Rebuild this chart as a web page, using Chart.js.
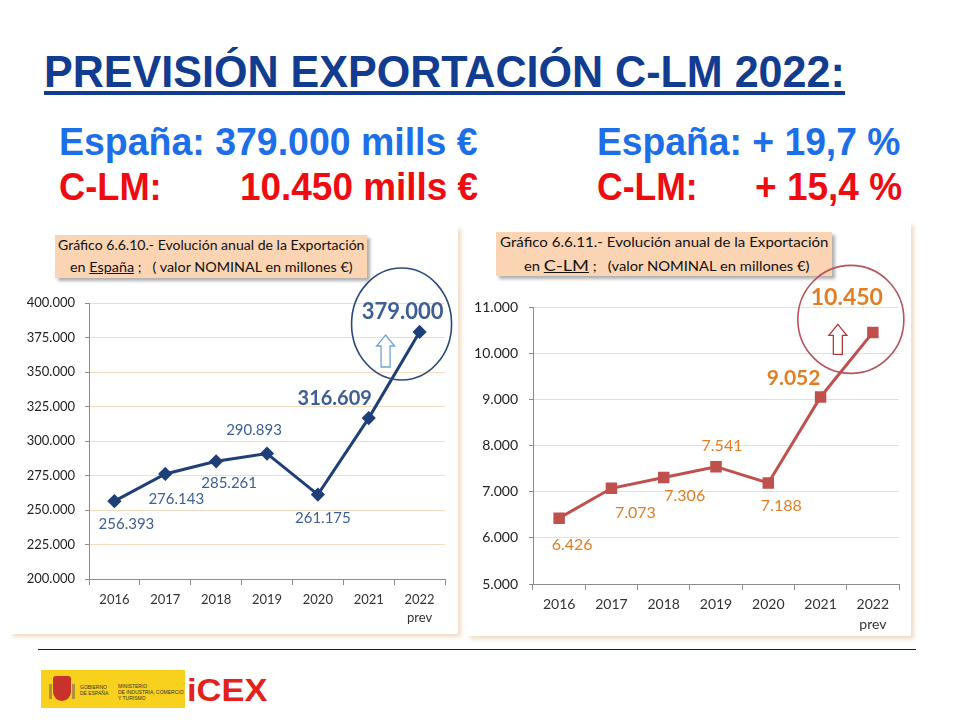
<!DOCTYPE html>
<html>
<head>
<meta charset="utf-8">
<script src="https://cdn.jsdelivr.net/npm/chart.js@4.4.1/dist/chart.umd.min.js"></script>
<style>
body { margin: 0; width: 956px; height: 720px; background: #fff; position: relative; overflow: hidden; font-family: 'Liberation Sans', Arial, sans-serif; }
.t { position: absolute; white-space: nowrap; line-height: 1; transform-origin: 0 0; }
.big { font-weight: bold; font-size: 38px; }
.blue { color: #1d6fe9; }
.red { color: #ee0c10; }
.panel { position: absolute; background: #fff; box-shadow: 3px 3px 4px rgba(232, 205, 175, 0.7); }
.cap { position: absolute; background: #fbd4b3; box-shadow: 3px 3px 3px rgba(110, 110, 110, 0.55); }
.capt { position: absolute; white-space: nowrap; font-family: Lato, sans-serif; font-size: 13px; color: #111; line-height: 1; transform-origin: 0 0; }
canvas { position: absolute; z-index: 2; }
</style>
</head>
<body>

<div class="t" id="title" data-w="801" style="left:44px;top:49px;font-weight:bold;font-size:45px;color:#123c90;">PREVISIÓN EXPORTACIÓN C-LM 2022:</div>
<div style="position:absolute;left:44px;top:91px;width:801px;height:4px;background:#123c90;"></div>

<div class="t big blue" data-w="419" style="left:59px;top:123px;">España: 379.000 mills €</div>
<div class="t big red" data-w="103" style="left:59px;top:168px;">C-LM:</div>
<div class="t big red" data-w="238" style="left:240px;top:168px;">10.450 mills €</div>
<div class="t big blue" data-w="303" style="left:597px;top:123px;">España: + 19,7 %</div>
<div class="t big red" data-w="101" style="left:597px;top:168px;">C-LM:</div>
<div class="t big red" data-w="147" style="left:755px;top:168px;">+ 15,4 %</div>

<div class="panel" style="left:10px;top:226px;width:448px;height:408px;"></div>
<div class="panel" style="left:467px;top:222px;width:444px;height:414px;"></div>

<div class="cap" style="left:55px;top:235px;width:312px;height:43px;"></div>
<div class="capt" data-w="306" style="left:58px;top:239px;">Gráfico 6.6.10.- Evolución anual de la Exportación</div>
<div class="capt" data-w="283" style="left:70px;top:261px;">en <u>España</u> ;&nbsp;&nbsp; ( valor NOMINAL en millones €)</div>

<div class="cap" style="left:496px;top:232px;width:336px;height:44px;"></div>
<div class="capt" data-w="328" style="left:500px;top:236px;">Gráfico 6.6.11.- Evolución anual de la Exportación</div>
<div class="capt" data-w="286" style="left:524px;top:257px;">en <u style="font-size:16px">C-LM</u> ;&nbsp;&nbsp; (valor NOMINAL en millones €)</div>

<canvas id="spainChart" width="450" height="385" style="left:10px;top:255px;"></canvas>
<canvas id="clmChart" width="444" height="385" style="left:468px;top:255px;"></canvas>

<div style="position:absolute;left:38px;top:649px;width:878px;height:1px;background:#222;"></div>
<div style="position:absolute;left:41px;top:670px;width:144px;height:38px;background:#f7d11e;"></div>
<div style="position:absolute;left:53px;top:676px;width:18px;height:25px;background:#c8322a;border-radius:3px 3px 9px 9px;"></div>
<div style="position:absolute;left:49px;top:684px;width:3px;height:15px;background:#b0903a;"></div>
<div style="position:absolute;left:72px;top:684px;width:3px;height:15px;background:#b0903a;"></div>
<div class="t" style="left:80px;top:684px;font-size:5px;line-height:6px;color:#333;">GOBIERNO<br>DE ESPAÑA</div>
<div class="t" style="left:118px;top:683px;font-size:5px;line-height:6px;color:#333;">MINISTERIO<br>DE INDUSTRIA, COMERCIO<br>Y TURISMO</div>
<div class="t" data-w="80" style="left:187px;top:675px;font-weight:bold;font-size:31px;color:#e3211d;">iCEX</div>

<script>
// data
const years = ['2016', '2017', '2018', '2019', '2020', '2021', ['2022', 'prev']];
const spainValues = [256393, 276143, 285261, 290893, 261175, 316609, 379000];
const clmValues = [6426, 7073, 7306, 7541, 7188, 9052, 10450];
const spainTicks = { min: 200000, max: 400000, step: 25000 };
const clmTicks = { min: 5000, max: 11000, step: 1000 };

function fmt(v) {
    return String(Math.round(v)).replace(/\B(?=(\d{3})+(?!\d))/g, '.');
}

// value labels, highlight circle and arrow drawn next to the points
const annotatePlugin = {
    id: 'annotate',
    afterDatasetsDraw(chart, args, opts) {
        const ctx = chart.ctx;
        const meta = chart.getDatasetMeta(0);
        const values = chart.data.datasets[0].data;
        const last = meta.data[meta.data.length - 1];
        ctx.save();

        const c = opts.circle;
        ctx.beginPath();
        ctx.ellipse(last.x + c.dx, last.y + c.dy, c.rx, c.ry, 0, 0, Math.PI * 2);
        ctx.strokeStyle = c.color;
        ctx.lineWidth = 1.6;
        ctx.stroke();

        const a = opts.arrow;
        const ax = last.x + a.dx, top = last.y + a.top, bot = last.y + a.bottom;
        const hw = a.head / 2, sw = a.shaft / 2, hh = a.headH;
        ctx.beginPath();
        ctx.moveTo(ax, top);
        ctx.lineTo(ax + hw, top + hh);
        ctx.lineTo(ax + sw, top + hh);
        ctx.lineTo(ax + sw, bot);
        ctx.lineTo(ax - sw, bot);
        ctx.lineTo(ax - sw, top + hh);
        ctx.lineTo(ax - hw, top + hh);
        ctx.closePath();
        ctx.fillStyle = '#fff';
        ctx.fill();
        ctx.strokeStyle = a.color;
        ctx.lineWidth = 1.3;
        ctx.stroke();

        ctx.textAlign = 'center';
        ctx.textBaseline = 'middle';
        ctx.fillStyle = opts.color;
        meta.data.forEach((pt, i) => {
            const o = opts.offsets[i];
            ctx.font = o[2] || opts.font;
            ctx.fillText(fmt(values[i]), pt.x + o[0], pt.y + o[1]);
        });
        ctx.restore();
    }
};

function makeChart(id, values, t, style) {
    const axisColor = '#8c8c8c';
    return new Chart(document.getElementById(id), {
        type: 'line',
        data: {
            labels: years,
            datasets: [{
                data: values,
                borderColor: style.line,
                backgroundColor: style.line,
                borderWidth: 3,
                pointStyle: style.marker,
                pointRadius: style.markerSize,
                pointHoverRadius: style.markerSize,
                tension: 0
            }]
        },
        options: {
            responsive: false,
            animation: false,
            events: [],
            layout: { padding: { left: 0, right: style.padRight, top: style.padTop, bottom: 0 } },
            plugins: {
                legend: { display: false },
                tooltip: { enabled: false },
                annotate: style.annotate
            },
            scales: {
                x: {
                    offset: true,
                    grid: { offset: true, drawOnChartArea: false, color: axisColor, tickLength: 6 },
                    border: { color: axisColor, width: 1 },
                    ticks: {
                        color: '#333',
                        font: { family: 'Lato', size: style.fontSize, lineHeight: style.xLineHeight },
                        padding: style.xPad,
                        maxRotation: 0,
                        autoSkip: false
                    },
                    afterFit(s) { s.height = style.xHeight; }
                },
                y: {
                    min: t.min,
                    max: t.max,
                    ticks: {
                        stepSize: t.step,
                        callback: v => fmt(v),
                        color: '#222',
                        font: { family: 'Lato', size: style.fontSize },
                        padding: style.yPad
                    },
                    grid: { color: '#f4dcc3', tickLength: 4, tickColor: axisColor },
                    border: { color: axisColor, width: 1 },
                    afterFit(s) { s.width = style.yWidth; }
                }
            }
        },
        plugins: [annotatePlugin]
    });
}

function fitTexts() {
    document.querySelectorAll('[data-w]').forEach(el => {
        const w = parseFloat(el.dataset.w);
        el.style.transform = 'scaleX(' + (w / el.scrollWidth) + ')';
    });
}

function init() {
    fitTexts();

    makeChart('spainChart', spainValues, spainTicks, {
        line: '#1f3f78', marker: 'rectRot', markerSize: 5,
        padRight: 15, padTop: 48, yWidth: 79, xHeight: 61,
        fontSize: 13, xLineHeight: 1.45, xPad: 5, yPad: 10,
        annotate: {
            color: '#3d5f96',
            font: '15px Lato',
            offsets: [[12, 23], [11, 25], [13, 22], [-13, -23], [5, 24],
                      [-34, -20, 'bold 20px Lato'], [-17, -20, 'bold 22px Lato']],
            circle: { dx: -18, dy: -8, rx: 50, ry: 56, color: '#2a4a7c' },
            arrow: { dx: -34, top: 3, bottom: 35, head: 18, headH: 11, shaft: 9, color: '#6ea3da' }
        }
    });

    makeChart('clmChart', clmValues, clmTicks, {
        line: '#c0504d', marker: 'rect', markerSize: 6,
        padRight: 13, padTop: 52, yWidth: 65, xHeight: 56,
        fontSize: 14, xLineHeight: 1.45, xPad: 4, yPad: 11,
        annotate: {
            color: '#e27d24',
            font: '16px Lato',
            offsets: [[13, 27], [24, 25], [21, 18], [6, -21], [13, 23],
                      [-27, -19, 'bold 21px Lato'], [-26, -35, 'bold 23px Lato']],
            circle: { dx: -22, dy: -13, rx: 53, ry: 54, color: '#b4555a' },
            arrow: { dx: -35, top: -8, bottom: 22, head: 18, headH: 11, shaft: 9, color: '#b03a3a' }
        }
    });
}

if (document.fonts && document.fonts.ready) {
    document.fonts.ready.then(init);
} else {
    window.addEventListener('load', init);
}
</script>
</body>
</html>
